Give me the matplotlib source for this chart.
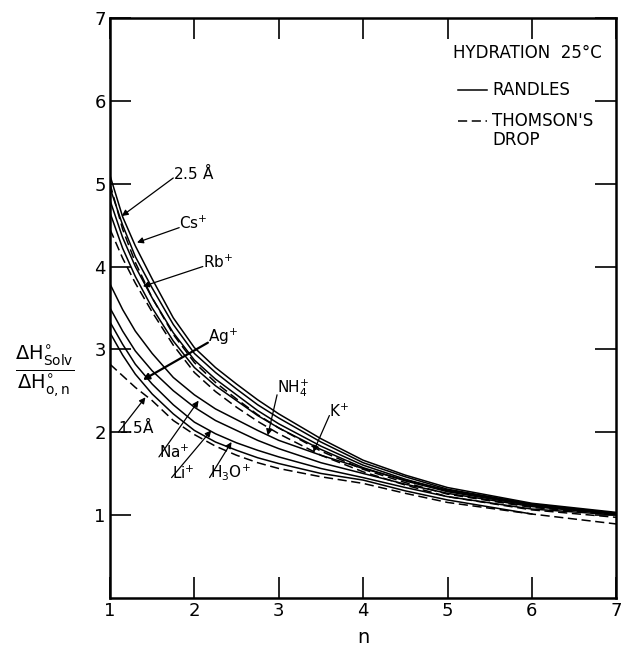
import numpy as np
import matplotlib
matplotlib.use('Agg')
import matplotlib.pyplot as plt

plt.rcParams['font.family'] = ['DejaVu Sans']

# ── data ───────────────────────────────────────────────────
n_pts = [1, 1.15, 1.3, 1.5, 1.75, 2, 2.25, 2.5, 2.75, 3, 3.5, 4, 4.5, 5, 6, 7]

# Randles (solid)
cs  = [5.10, 4.60, 4.25, 3.85, 3.38, 3.02, 2.78, 2.58, 2.39, 2.22, 1.92, 1.66, 1.48, 1.33, 1.14, 1.03]
rb  = [4.95, 4.50, 4.12, 3.74, 3.30, 2.95, 2.72, 2.52, 2.33, 2.17, 1.88, 1.63, 1.46, 1.31, 1.13, 1.02]
nh4 = [4.80, 4.35, 4.00, 3.62, 3.20, 2.87, 2.64, 2.45, 2.26, 2.10, 1.83, 1.60, 1.43, 1.29, 1.12, 1.02]
k   = [4.65, 4.22, 3.88, 3.50, 3.10, 2.78, 2.56, 2.38, 2.20, 2.05, 1.79, 1.57, 1.41, 1.28, 1.11, 1.01]
ag  = [3.79, 3.48, 3.22, 2.95, 2.66, 2.45, 2.28, 2.15, 2.02, 1.90, 1.72, 1.56, 1.42, 1.30, 1.13, 1.02]
na  = [3.50, 3.22, 2.98, 2.74, 2.50, 2.30, 2.14, 2.02, 1.90, 1.80, 1.63, 1.50, 1.37, 1.26, 1.10, 1.01]
li  = [3.33, 3.06, 2.82, 2.58, 2.33, 2.12, 1.98, 1.87, 1.78, 1.70, 1.56, 1.45, 1.33, 1.22, 1.07, 1.00]
h3o = [3.20, 2.93, 2.70, 2.46, 2.22, 2.02, 1.88, 1.78, 1.69, 1.62, 1.50, 1.42, 1.29, 1.18, 1.01, np.nan]

# Thomson's drop (dashed)
r25 = [5.00, 4.45, 4.05, 3.62, 3.18, 2.84, 2.60, 2.40, 2.21, 2.05, 1.77, 1.55, 1.39, 1.25, 1.09, 1.00]
r20 = [4.45, 4.10, 3.80, 3.45, 3.05, 2.72, 2.49, 2.30, 2.13, 1.98, 1.72, 1.52, 1.36, 1.22, 1.06, 0.97]
r15 = [2.82, 2.68, 2.54, 2.38, 2.14, 1.97, 1.83, 1.72, 1.63, 1.56, 1.46, 1.38, 1.26, 1.15, 1.01, 0.89]

solid = [cs, rb, nh4, k, ag, na, li, h3o]
dashed = [r25, r20, r15]

# label text, text position, arrow tip
labels = [
    (r'2.5 $\mathrm{\AA}$', (1.75, 5.02), (1.14, 4.61)),
    (r'Cs$^{+}$', (1.82, 4.42), (1.32, 4.29)),
    (r'Rb$^{+}$', (2.10, 3.95), (1.39, 3.76)),
    (r'Ag$^{+}$', (2.16, 3.03), (1.39, 2.63)),
    (r'NH$_4^{+}$', (2.98, 2.40), (2.87, 1.96)),
    (r'K$^{+}$', (3.60, 2.15), (3.41, 1.76)),
    (r'Na$^{+}$', (1.58, 1.65), (2.05, 2.38)),
    (r'Li$^{+}$', (1.73, 1.40), (2.20, 2.02)),
    (r'H$_3$O$^{+}$', (2.18, 1.40), (2.44, 1.88)),
    (r'1.5$\mathrm{\AA}$', (1.10, 1.95), (1.42, 2.42)),
]

fig = plt.figure(figsize=(6.25, 6.51), dpi=100)
ax = fig.add_axes([0.176, 0.082, 0.810, 0.890])

for y in solid:
    ax.plot(n_pts, y, color='black', lw=1.1)
for y in dashed:
    ax.plot(n_pts, y, color='black', lw=1.1, ls=(0, (6, 3)))

for txt, (tx, ty), (px, py) in labels:
    lw = 1.6 if 'Ag' in txt else 0.9
    ax.annotate('', xy=(px, py), xytext=(tx, ty + 0.05),
                arrowprops=dict(arrowstyle='-|>', color='black', lw=lw,
                                mutation_scale=9, shrinkA=0, shrinkB=0))
    ax.text(tx, ty, txt, fontsize=11, ha='left', va='bottom')

# legend-like block
ax.text(5.06, 6.58, 'HYDRATION  25°C', fontsize=12, va='center')
ax.plot([5.13, 5.47], [6.13, 6.13], color='black', lw=1.1)
ax.text(5.53, 6.13, 'RANDLES', fontsize=12, va='center')
ax.plot([5.13, 5.47], [5.76, 5.76], color='black', lw=1.1, ls=(0, (6, 3)))
ax.text(5.53, 5.76, "THOMSON'S", fontsize=12, va='center')
ax.text(5.53, 5.53, 'DROP', fontsize=12, va='center')

ax.set_xlim(1, 7)
ax.set_ylim(0, 7)
ax.set_xticks(range(1, 8))
ax.set_yticks(range(1, 8))
ax.tick_params(direction='in', length=15, width=1.2, labelsize=13,
               top=True, right=True, pad=3)
for sp in ax.spines.values():
    sp.set_linewidth(1.8)

# x label placed by hand so it sits just under the tick labels
fig.text(0.176 + 0.810 / 2, 0.012, 'n', fontsize=14, ha='center',
         va='baseline')

fig.text(0.072, 0.43,
         r'$\frac{\Delta\mathrm{H}^{\circ}_{\mathrm{Solv}}}{\Delta\mathrm{H}^{\circ}_{\mathrm{o,n}}}$',
         fontsize=20, ha='center', va='center')

fig.savefig('out.png', dpi=100)
